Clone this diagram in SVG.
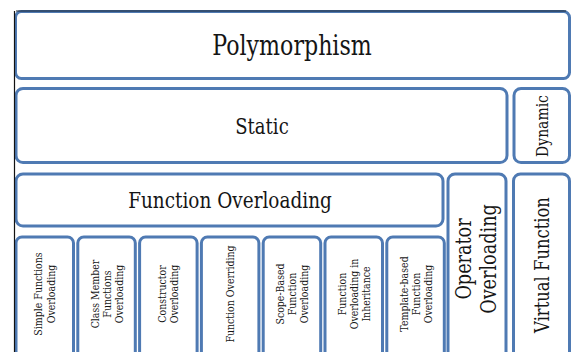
<svg xmlns="http://www.w3.org/2000/svg" width="571" height="352" viewBox="0 0 571 352">
<style>
.box{fill:#fff;stroke:#4f7ab3;stroke-width:3}
.t{font-family:'DejaVu Serif',serif;fill:#151515;text-anchor:middle}
.s{font-size:11.5px}
</style>
<rect width="571" height="352" fill="#fff"/>
<g id="polymorphism">
<rect class="box" x="15.5" y="11.5" width="554" height="67" rx="6"/>
<path d="M16 11 H566" stroke="#1a2433" stroke-width="1.2" fill="none"/>
<text class="t" transform="translate(292,55) scale(0.82,1)" font-size="27">Polymorphism</text>
</g>
<g id="static">
<rect class="box" x="16" y="88.5" width="491" height="74" rx="7"/>
<text class="t" transform="translate(262,134) scale(0.82,1)" font-size="22">Static</text>
</g>
<g id="dynamic">
<rect class="box" x="514" y="88.5" width="55.5" height="74" rx="7"/>
<text class="t" transform="translate(542,126) rotate(-90) scale(0.82,1)" y="6" font-size="17">Dynamic</text>
</g>
<g id="function-overloading">
<rect class="box" x="16" y="174" width="427" height="52" rx="7"/>
<text class="t" transform="translate(230,208) scale(0.82,1)" font-size="22.5">Function Overloading</text>
</g>
<g id="operator-overloading">
<rect class="box" x="448" y="174" width="58" height="200" rx="7"/>
<text class="t" transform="translate(477,259) rotate(-90) scale(0.82,1)" font-size="21.5"><tspan x="0" y="-6.5">Operator</tspan><tspan x="0" y="18.5">Overloading</tspan></text>
</g>
<g id="virtual-function">
<rect class="box" x="513.5" y="174" width="56" height="200" rx="7"/>
<text class="t" transform="translate(542,265) rotate(-90) scale(0.82,1)" y="7" font-size="20">Virtual Function</text>
</g>
<g id="simple-functions-overloading">
<rect class="box" x="16" y="237" width="57.5" height="140" rx="6"/>
<text class="t s" transform="translate(44.75,294) rotate(-90) scale(0.82,1)"><tspan x="0" y="-2.5">Simple Functions</tspan><tspan x="0" y="10">Overloading</tspan></text>
</g>
<g id="class-member-functions-overloading">
<rect class="box" x="77.8" y="237" width="57.5" height="140" rx="6"/>
<text class="t s" transform="translate(106.55,294) rotate(-90) scale(0.82,1)"><tspan x="0" y="-8">Class Member</tspan><tspan x="0" y="4">Functions</tspan><tspan x="0" y="16">Overloading</tspan></text>
</g>
<g id="constructor-overloading">
<rect class="box" x="139.6" y="237" width="57.5" height="140" rx="6"/>
<text class="t s" transform="translate(168.35,294) rotate(-90) scale(0.82,1)"><tspan x="0" y="-2.5">Constructor</tspan><tspan x="0" y="10">Overloading</tspan></text>
</g>
<g id="function-overriding">
<rect class="box" x="201.4" y="237" width="57.5" height="140" rx="6"/>
<text class="t s" transform="translate(230.15,294) rotate(-90) scale(0.82,1)" y="4">Function Overriding</text>
</g>
<g id="scope-based-function-overloading">
<rect class="box" x="263.2" y="237" width="57.5" height="140" rx="6"/>
<text class="t s" transform="translate(291.95,294) rotate(-90) scale(0.82,1)"><tspan x="0" y="-8">Scope-Based</tspan><tspan x="0" y="4">Function</tspan><tspan x="0" y="16">Overloading</tspan></text>
</g>
<g id="function-overloading-in-inheritance">
<rect class="box" x="325" y="237" width="57.5" height="140" rx="6"/>
<text class="t s" transform="translate(353.75,294) rotate(-90) scale(0.82,1)"><tspan x="0" y="-8">Function</tspan><tspan x="0" y="4">Overloading in</tspan><tspan x="0" y="16">Inheritance</tspan></text>
</g>
<g id="template-based-function-overloading">
<rect class="box" x="386.8" y="237" width="57.5" height="140" rx="6"/>
<text class="t s" transform="translate(415.55,294) rotate(-90) scale(0.82,1)"><tspan x="0" y="-8">Template-based</tspan><tspan x="0" y="4">Function</tspan><tspan x="0" y="16">Overloading</tspan></text>
</g>
<g id="connectors">
<path d="M14.5 11 V352" stroke="#111" stroke-width="1.2" fill="none"/>
</g>
</svg>
